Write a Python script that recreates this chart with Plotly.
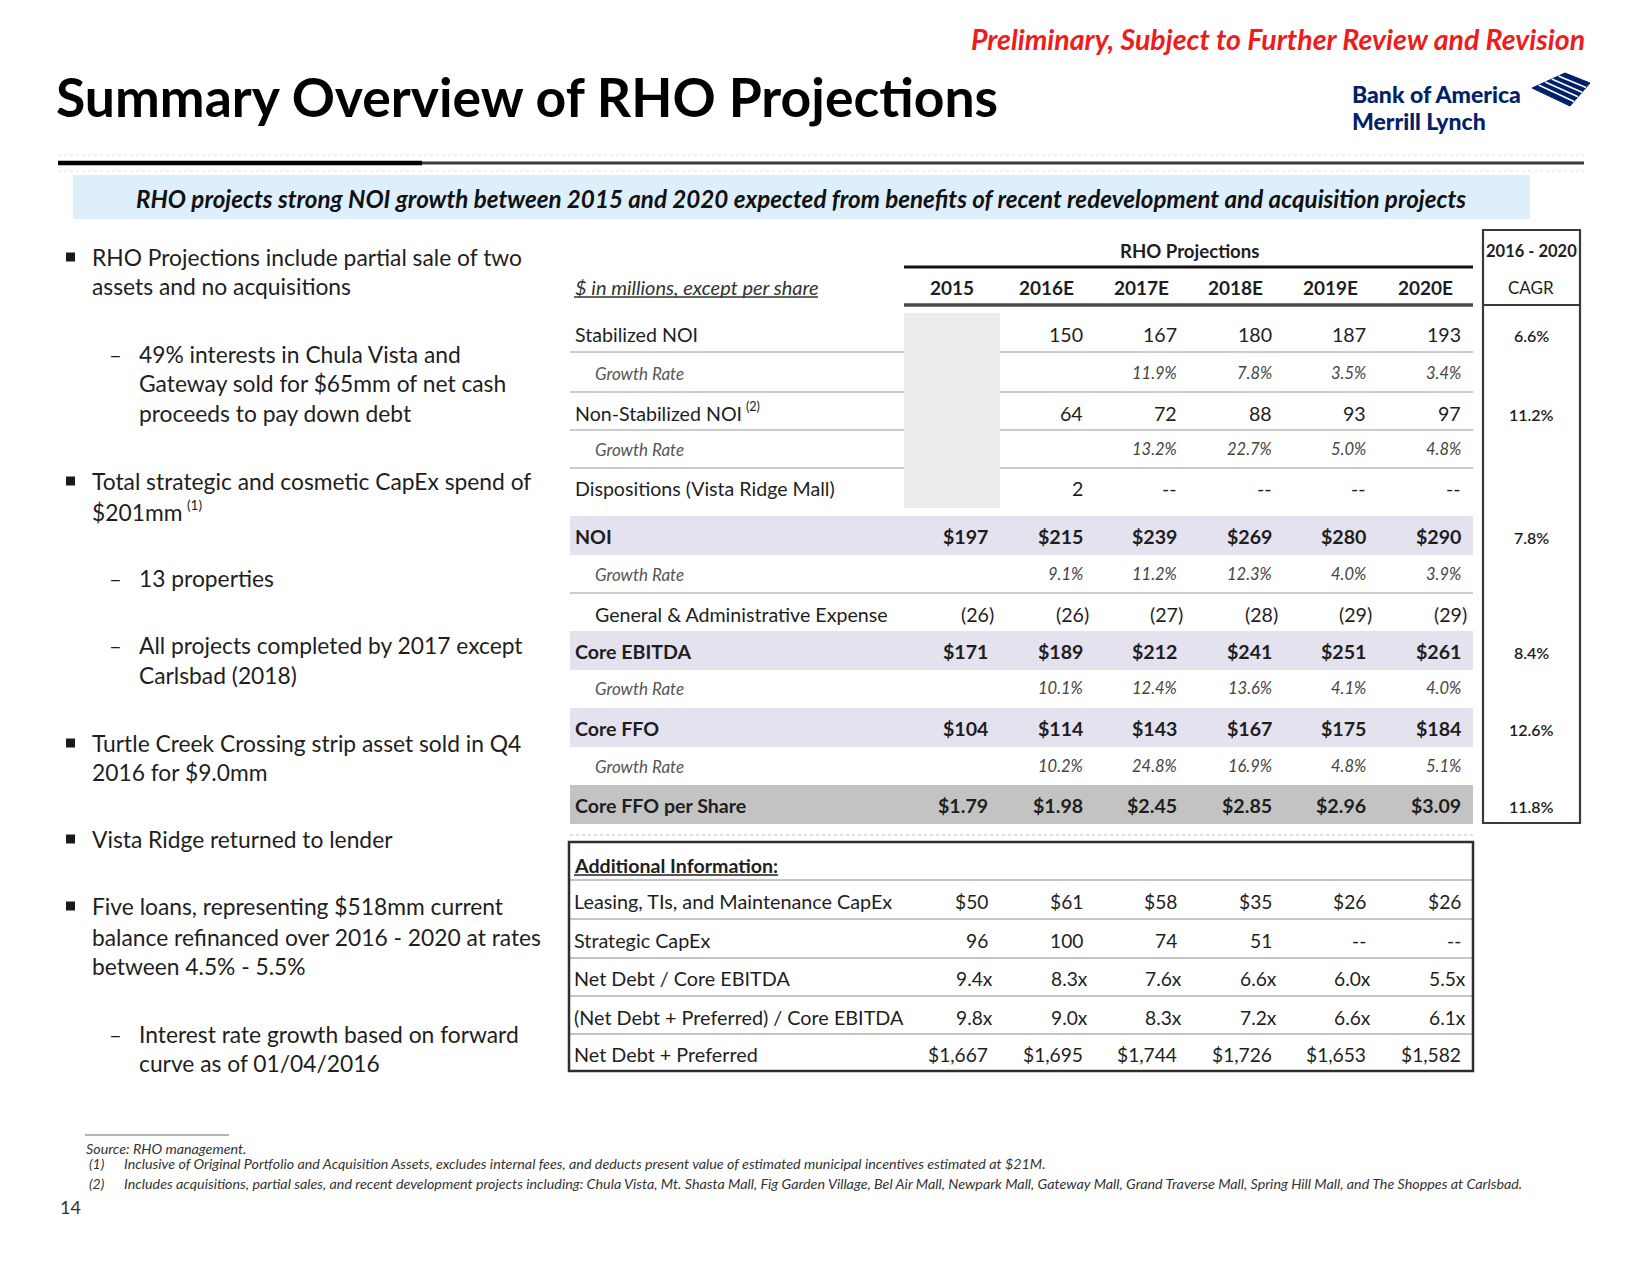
import plotly.graph_objects as go

# ---------------- data ----------------
years = ["2015", "2016E", "2017E", "2018E", "2019E", "2020E"]

stabilized_noi = [None, 150, 167, 180, 187, 193]
stabilized_noi_growth = [None, None, 11.9, 7.8, 3.5, 3.4]
non_stabilized_noi = [None, 64, 72, 88, 93, 97]
non_stabilized_noi_growth = [None, None, 13.2, 22.7, 5.0, 4.8]
dispositions = [None, 2, 0, 0, 0, 0]
noi = [197, 215, 239, 269, 280, 290]
noi_growth = [None, 9.1, 11.2, 12.3, 4.0, 3.9]
g_and_a = [-26, -26, -27, -28, -29, -29]
core_ebitda = [171, 189, 212, 241, 251, 261]
core_ebitda_growth = [None, 10.1, 12.4, 13.6, 4.1, 4.0]
core_ffo = [104, 114, 143, 167, 175, 184]
core_ffo_growth = [None, 10.2, 24.8, 16.9, 4.8, 5.1]
core_ffo_per_share = [1.79, 1.98, 2.45, 2.85, 2.96, 3.09]

cagr_rows = ["Stabilized NOI", "Non-Stabilized NOI", "NOI", "Core EBITDA", "Core FFO", "Core FFO per Share"]
cagr_values = [6.6, 11.2, 7.8, 8.4, 12.6, 11.8]

leasing_capex = [50, 61, 58, 35, 26, 26]
strategic_capex = [96, 100, 74, 51, 0, 0]
net_debt_to_ebitda = [9.4, 8.3, 7.6, 6.6, 6.0, 5.5]
net_debt_pref_to_ebitda = [9.8, 9.0, 8.3, 7.2, 6.6, 6.1]
net_debt_plus_pref = [1667, 1695, 1744, 1726, 1653, 1582]

bullets = [
    (0, ["RHO Projections include partial sale of two", "assets and no acquisitions"]),
    (1, ["49% interests in Chula Vista and", "Gateway sold for $65mm of net cash", "proceeds to pay down debt"]),
    (0, ["Total strategic and cosmetic CapEx spend of", "$201mm"]),
    (1, ["13 properties"]),
    (1, ["All projects completed by 2017 except", "Carlsbad (2018)"]),
    (0, ["Turtle Creek Crossing strip asset sold in Q4", "2016 for $9.0mm"]),
    (0, ["Vista Ridge returned to lender"]),
    (0, ["Five loans, representing $518mm current", "balance refinanced over 2016 - 2020 at rates", "between 4.5% - 5.5%"]),
    (1, ["Interest rate growth based on forward", "curve as of 01/04/2016"]),
]

footnotes = [
    ("", "Source: RHO management."),
    ("(1)", "Inclusive of Original Portfolio and Acquisition Assets, excludes internal fees, and deducts present value of estimated municipal incentives estimated at $21M."),
    ("(2)", "Includes acquisitions, partial sales, and recent development projects including: Chula Vista, Mt. Shasta Mall, Fig Garden Village, Bel Air Mall, Newpark Mall, Gateway Mall, Grand Traverse Mall, Spring Hill Mall, and The Shoppes at Carlsbad."),
]

# ---------------- formatting ----------------
def fmt(v, kind):
    if v is None:
        return ""
    if kind == "int":
        return "--" if v == 0 else f"{v:d}"
    if kind == "pct":
        return f"{v:.1f}%"
    if kind == "dollar":
        return f"${v:d}"
    if kind == "paren":
        return f"({abs(v):d})"
    if kind == "dollar2":
        return f"${v:.2f}"
    if kind == "mult":
        return f"{v:.1f}x"
    if kind == "dollar_comma":
        return f"${v:,d}"
    return str(v)

# ---------------- layout constants ----------------
W, H = 1641, 1269
FONT = "Lato"
TXT = "#1e1e1e"
BAND = "#E4E2EE"
SHARE_BAND = "#C3C3C3"
SEP = "#CBCBCB"

col_right = [989 + i * 94.6 for i in range(len(years))]
tbl_left, tbl_right = 570, 1473

fig = go.Figure()
fig.add_trace(go.Scatter(x=[0], y=[0], mode="markers", marker=dict(opacity=0), hoverinfo="skip", showlegend=False))


def txt(x, y, s, size, color=TXT, anchor="left", bold=False, italic=False, family=FONT, weight=None):
    w = weight if weight else ("bold" if bold else "normal")
    fig.add_annotation(x=x, y=y, xref="x", yref="y", text=s, showarrow=False,
                       xanchor=anchor, yanchor="middle", borderpad=0,
                       font=dict(family=family, size=size, color=color, weight=w,
                                 style="italic" if italic else "normal"))


def rect(x0, y0, x1, y1, fill=None, line=None, lw=0, dash=None):
    fig.add_shape(type="rect", xref="x", yref="y", x0=x0, y0=y0, x1=x1, y1=y1,
                  fillcolor=fill if fill else "rgba(0,0,0,0)",
                  line=dict(color=line if line else "rgba(0,0,0,0)", width=lw, dash=dash), layer="below")


def hline(x0, x1, y, color, w, dash=None, layer="below"):
    fig.add_shape(type="line", xref="x", yref="y", x0=x0, x1=x1, y0=y, y1=y,
                  line=dict(color=color, width=w, dash=dash), layer=layer)

# ---------------- header ----------------
txt(1586, 39, "Preliminary, Subject to Further Review and Revision", 28.5, "#EE1C1C", anchor="right", bold=True, italic=True)
txt(55, 96, "Summary Overview of RHO Projections", 53.5, "#000000", bold=True)

# logo
txt(1351, 94, "Bank of America", 23, "#012169", weight=900)
txt(1351, 121, "Merrill Lynch", 23, "#012169", weight=900)
fig.add_shape(type="path", xref="x", yref="y",
              path="M 1532 88 L 1565 73 L 1590 83 L 1570 106 Z",
              fillcolor="#012169", line=dict(color="#012169", width=1), layer="above")
for k in range(1, 5):
    fig.add_shape(type="line", xref="x", yref="y",
                  x0=1532 + k * 6.6, y0=88 - k * 3.0, x1=1570 + k * 4.0, y1=106 - k * 4.6,
                  line=dict(color="#ffffff", width=1.6), layer="above")

# rules
hline(58, 1584, 155, "#E2E2E2", 1, dash="dot")
hline(58, 1584, 171, "#E2E2E2", 1, dash="dot")
hline(420, 1584, 163, "#3a3a3a", 3)
hline(58, 422, 163, "#000000", 4.5)

# banner
rect(73, 175, 1530, 219, fill="#DDEFFA")
txt(801, 198, "RHO projects strong NOI growth between 2015 and 2020 expected from benefits of recent redevelopment and acquisition projects",
    24.2, "#111111", anchor="center", bold=True, italic=True)

# ---------------- left bullets ----------------
bullet_y = [[257, 286], [354, 383, 413], [481, 512], [578], [645, 675], [743, 772], [839], [906, 937, 966], [1034, 1063]]
for (lvl, lines), ys in zip(bullets, bullet_y):
    if lvl == 0:
        fig.add_shape(type="rect", xref="x", yref="y", x0=66, x1=75, y0=ys[0] - 4.5, y1=ys[0] + 4.5,
                      fillcolor="#1a1a1a", line=dict(width=0), layer="above")
        tx = 91
    else:
        txt(108, ys[0], "–", 22, TXT)
        tx = 138
    for line, y in zip(lines, ys):
        txt(tx, y, line, 22.8, TXT)
# footnote marker after "$201mm"
txt(186, 505, "(1)", 13.5, TXT)

# ---------------- main table ----------------
rows = [
    ("Stabilized NOI", stabilized_noi, "int", "main", 334),
    ("Growth Rate", stabilized_noi_growth, "pct", "growth", 373),
    ("Non-Stabilized NOI", non_stabilized_noi, "int", "main", 413),
    ("Growth Rate", non_stabilized_noi_growth, "pct", "growth", 449),
    ("Dispositions (Vista Ridge Mall)", dispositions, "int", "main", 488),
    ("NOI", noi, "dollar", "band", 536),
    ("Growth Rate", noi_growth, "pct", "growth", 574),
    ("General & Administrative Expense", g_and_a, "paren", "sub", 614),
    ("Core EBITDA", core_ebitda, "dollar", "band", 651),
    ("Growth Rate", core_ebitda_growth, "pct", "growth", 688),
    ("Core FFO", core_ffo, "dollar", "band", 728),
    ("Growth Rate", core_ffo_growth, "pct", "growth", 766),
    ("Core FFO per Share", core_ffo_per_share, "dollar2", "share", 805),
]
row_lookup = {r[0]: r[4] for r in rows}

# separators
for y in [352, 392, 430, 468, 593]:
    hline(tbl_left, tbl_right, y, SEP, 2)
# 2015 placeholder column
rect(904, 313, 1000, 508, fill="#ECECEC")

for label, vals, kind, style, y in rows:
    if style == "band":
        rect(tbl_left, y - 20, tbl_right, y + 19, fill=BAND)
    if style == "share":
        rect(tbl_left, y - 20, tbl_right, y + 19, fill=SHARE_BAND)
    bold = style in ("band", "share")
    if style == "growth":
        txt(594, y, label, 17, "#555555", italic=True)
    elif style == "sub":
        txt(594, y, label, 19.6, TXT)
    else:
        txt(574, y, label, 19.6, TXT, bold=bold)
    for i, v in enumerate(vals):
        s = fmt(v, kind)
        if not s:
            continue
        xr = col_right[i] + (6 if kind == "paren" else 0)
        if style == "growth":
            txt(xr, y, s, 16.5, "#444444", anchor="right", italic=True)
        else:
            txt(xr, y, s, 19.6, TXT, anchor="right", bold=bold)
# footnote marker after "Non-Stabilized NOI"
txt(745, 406, "(2)", 12.5, TXT)

hline(tbl_left, tbl_right, 835, "#D5D5D5", 1.5, dash="dot")

# header
txt(1189, 251, "RHO Projections", 18.6, TXT, anchor="center", bold=True)
hline(904, tbl_right, 267, "#111111", 2.8)
hline(904, tbl_right, 305, "#4a4a4a", 3.5)
txt(574, 287, "$ in millions, except per share", 20, "#333333", italic=True)
hline(574, 818, 297, "#333333", 1.3)
for i, yr in enumerate(years):
    txt(col_right[i] - 37, 287, yr, 19, TXT, anchor="center", bold=True)

# CAGR box
rect(1483, 230, 1580, 823, line="#3a3a3a", lw=2.2)
hline(1483, 1580, 305, "#3a3a3a", 2.2)
txt(1531, 251, "2016 - 2020", 16.5, TXT, anchor="center", bold=True)
txt(1531, 287, "CAGR", 17, TXT, anchor="center")
for name, v in zip(cagr_rows, cagr_values):
    txt(1531, row_lookup[name] + 1, f"{v:.1f}%", 16, TXT, anchor="center", weight=600)

# ---------------- additional information ----------------
add_rows = [
    ("Leasing, TIs, and Maintenance CapEx", leasing_capex, "dollar", 901),
    ("Strategic CapEx", strategic_capex, "int", 940),
    ("Net Debt / Core EBITDA", net_debt_to_ebitda, "mult", 978),
    ("(Net Debt + Preferred) / Core EBITDA", net_debt_pref_to_ebitda, "mult", 1017),
    ("Net Debt + Preferred", net_debt_plus_pref, "dollar_comma", 1054),
]
for y in [880, 919, 958, 996, 1034]:
    hline(569, 1473, y, "#C4C4C4", 2)
rect(569, 842, 1473, 1071, line="#2e2e2e", lw=2.5)
txt(573, 865, "Additional Information:", 19.6, TXT, bold=True)
hline(574, 778, 875, TXT, 1.3)
for label, vals, kind, y in add_rows:
    txt(573, y, label, 19.8, TXT)
    for i, v in enumerate(vals):
        s = fmt(v, kind)
        xr = col_right[i] + (5 if kind == "mult" else 0)
        txt(xr, y, s, 19.2, TXT, anchor="right")

# ---------------- footnotes ----------------
hline(85, 229, 1135, "#9a9a9a", 1.5)
foot_y = [1148, 1163, 1183]
for (mark, text), y in zip(footnotes, foot_y):
    if mark:
        txt(88, y, mark, 14, "#333333", italic=True)
        txt(123, y, text, 14.3, "#333333", italic=True)
    else:
        txt(85, y, text, 14.3, "#333333", italic=True)
txt(59, 1207, "14", 18, "#333333")

# ---------------- figure layout ----------------
fig.update_layout(
    width=W, height=H, margin=dict(l=0, r=0, t=0, b=0),
    paper_bgcolor="white", plot_bgcolor="white", showlegend=False,
    xaxis=dict(range=[0, W], visible=False, fixedrange=True),
    yaxis=dict(range=[H, 0], visible=False, fixedrange=True),
)
fig.write_html("out.html", include_plotlyjs=True, config={"displayModeBar": False},
               post_script="document.body.style.margin='0';document.body.style.overflow='hidden';")
